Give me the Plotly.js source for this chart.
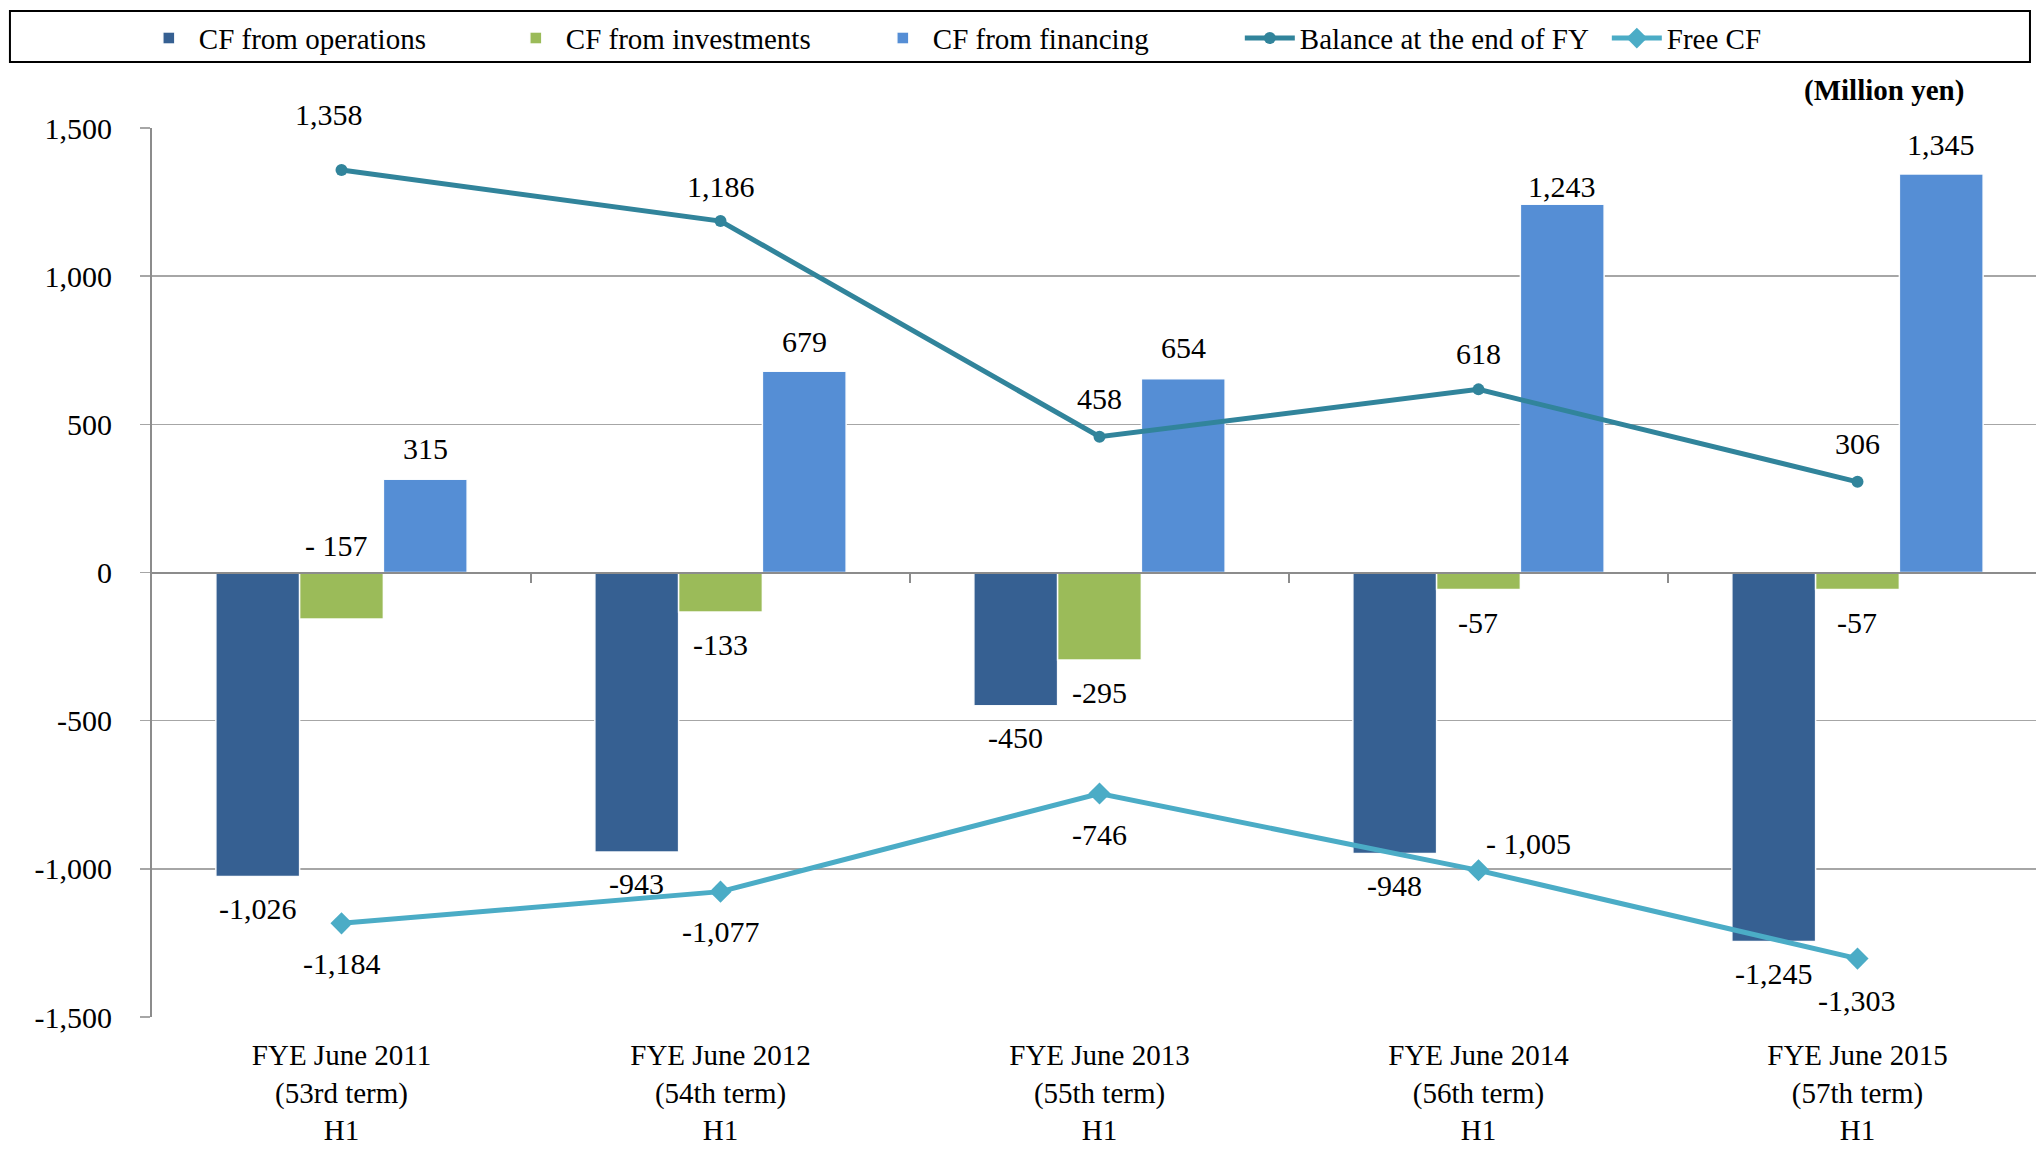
<!DOCTYPE html>
<html>
<head>
<meta charset="utf-8">
<script src="https://cdn.plot.ly/plotly-3.0.1.min.js"></script>
<style>
  html, body { margin: 0; padding: 0; background: #ffffff; }
  #chart { width: 2036px; height: 1152px; }
</style>
</head>
<body>
<div id="chart"></div>
<script>
// ---- data ----
const categories = [
  'FYE June 2011<br>(53rd term)<br>H1',
  'FYE June 2012<br>(54th term)<br>H1',
  'FYE June 2013<br>(55th term)<br>H1',
  'FYE June 2014<br>(56th term)<br>H1',
  'FYE June 2015<br>(57th term)<br>H1'
];
const cfOperations  = [-1026, -943, -450, -948, -1245];
const cfInvestments = [-157, -133, -295, -57, -57];
const cfFinancing   = [315, 679, 654, 1243, 1345];
const balanceEndFY  = [1358, 1186, 458, 618, 306];
const freeCF        = [-1184, -1077, -746, -1005, -1303];

const investmentLabels = ['- 157', '-133', '-295', '-57', '-57'];
const freeCFLabels     = ['-1,184', '-1,077', '-746', '- 1,005', '-1,303'];

const yTickVals = [-1500, -1000, -500, 0, 500, 1000, 1500];
const yTickText = ['-1,500', '-1,000', '-500', '0', '500', '1,000', '1,500'];

const seriesNames = ['CF from operations', 'CF from investments', 'CF from financing',
                     'Balance at the end of FY', 'Free CF'];

// ---- styles ----
const FONT = 'Liberation Serif, Times New Roman, serif';
const colors = {
  ops: '#366092', inv: '#9BBB59', fin: '#558ED5', bal: '#31849B', free: '#4BACC6'
};
const BARGAP = 0.337;
const barStep = (1 - BARGAP) / 3;
const fmt = v => v.toLocaleString('en-US');

const barLine = { color: 'rgba(255,255,255,0.95)', width: 1.5 };

const traces = [
  { type: 'bar', name: seriesNames[0], x: categories, y: cfOperations,
    marker: { color: colors.ops, line: barLine }, hoverinfo: 'y' },
  { type: 'bar', name: seriesNames[1], x: categories, y: cfInvestments,
    marker: { color: colors.inv, line: barLine }, hoverinfo: 'y' },
  { type: 'bar', name: seriesNames[2], x: categories, y: cfFinancing,
    marker: { color: colors.fin, line: barLine }, hoverinfo: 'y' },
  { type: 'scatter', mode: 'lines+markers', name: seriesNames[3], x: categories, y: balanceEndFY,
    line: { color: colors.bal, width: 5 },
    marker: { symbol: 'circle', size: 12, color: colors.bal }, hoverinfo: 'y' },
  { type: 'scatter', mode: 'lines+markers', name: seriesNames[4], x: categories, y: freeCF,
    line: { color: colors.free, width: 5 },
    marker: { symbol: 'diamond', size: 17, color: colors.free }, hoverinfo: 'y' },
  { type: 'scatter', x: [], y: [], xaxis: 'x2', showlegend: false, hoverinfo: 'skip' }
];

// ---- labels (anchored to data values) ----
const labelFont = { family: FONT, size: 30, color: '#000000' };
function label(x, y, text, xshift, yshift) {
  return { x: x, y: y, xref: 'x', yref: 'y', text: text, showarrow: false,
           xanchor: 'center', yanchor: 'middle', xshift: xshift, yshift: yshift,
           font: labelFont };
}
const annotations = [];
// label offsets (pixels)
const opsShift = -32, invShift = -33, finShift = [31, 30, 31, 18, 29];
const balShift = [[-13, 56], [0, 35], [0, 38], [0, 36], [0, 38]];
const freeShift = [[0, -40], [0, -40], [0, -41], [50, 27], [0, -42]];

cfOperations.forEach((v, i) => annotations.push(label(i - barStep, v, fmt(v), 0, opsShift)));
cfInvestments.forEach((v, i) => {
  if (i === 0) annotations.push(label(i, 0, investmentLabels[i], -5, 27));
  else annotations.push(label(i, v, investmentLabels[i], 0, invShift));
});
cfFinancing.forEach((v, i) => annotations.push(label(i + barStep, v, fmt(v), 0, finShift[i])));
balanceEndFY.forEach((v, i) => annotations.push(label(i, v, fmt(v), balShift[i][0], balShift[i][1])));
freeCF.forEach((v, i) => annotations.push(label(i, v, freeCFLabels[i], freeShift[i][0], freeShift[i][1])));

annotations.push({
  x: 0.9628, y: 1.0427, xref: 'paper', yref: 'paper', xanchor: 'right', yanchor: 'middle',
  text: '<b>(Million yen)</b>', showarrow: false,
  font: { family: FONT, size: 29, color: '#000000' }
});

const xRange = [-0.5, 4.471];

const layout = {
  width: 2036, height: 1152,
  margin: { l: 152, r: 0, t: 128, b: 135, pad: 0 },
  paper_bgcolor: '#ffffff', plot_bgcolor: '#ffffff',
  font: { family: FONT, size: 30, color: '#000000' },
  barmode: 'group', bargap: BARGAP, bargroupgap: 0,
  showlegend: true,
  legend: {
    orientation: 'h', x: 0.48, xanchor: 'center', y: 1.101, yanchor: 'middle',
    font: { family: FONT, size: 29, color: '#000000' },
    bgcolor: 'rgba(0,0,0,0)', borderwidth: 0, itemwidth: 50, traceorder: 'normal',
    entrywidth: 302, entrywidthmode: 'pixels'
  },
  xaxis: {
    type: 'category', range: xRange, showgrid: false, zeroline: false,
    showline: false, ticks: '', tickfont: { family: FONT, size: 29, color: '#000000' },
    ticklabelstandoff: 18, fixedrange: true
  },
  xaxis2: {
    type: 'linear', overlaying: 'x', anchor: 'free', position: 0.5, side: 'bottom',
    range: xRange, tickmode: 'array', tickvals: [0.5, 1.5, 2.5, 3.5, 4.5],
    ticks: 'outside', ticklen: 9, tickwidth: 1.5, tickcolor: '#8c8c8c',
    showticklabels: false, showgrid: false, zeroline: false,
    showline: true, linecolor: '#8c8c8c', linewidth: 2, fixedrange: true
  },
  yaxis: {
    range: [-1500, 1500], tickmode: 'array', tickvals: yTickVals, ticktext: yTickText,
    showgrid: true, gridcolor: '#a6a6a6', gridwidth: 1.5, zeroline: false,
    showline: true, linecolor: '#8c8c8c', linewidth: 2,
    ticks: 'outside', ticklen: 10, tickwidth: 1.5, tickcolor: '#a6a6a6',
    tickfont: { family: FONT, size: 30, color: '#000000' },
    ticklabelstandoff: 22, fixedrange: true
  },
  shapes: [{
    type: 'rect', xref: 'paper', yref: 'paper',
    x0: -0.0754, x1: 0.9968, y0: 1.0743, y1: 1.1316,
    line: { color: '#000000', width: 2 }, fillcolor: 'rgba(0,0,0,0)'
  }],
  annotations: annotations
};

Plotly.newPlot('chart', traces, layout, { displayModeBar: false, staticPlot: true });
</script>
</body>
</html>
